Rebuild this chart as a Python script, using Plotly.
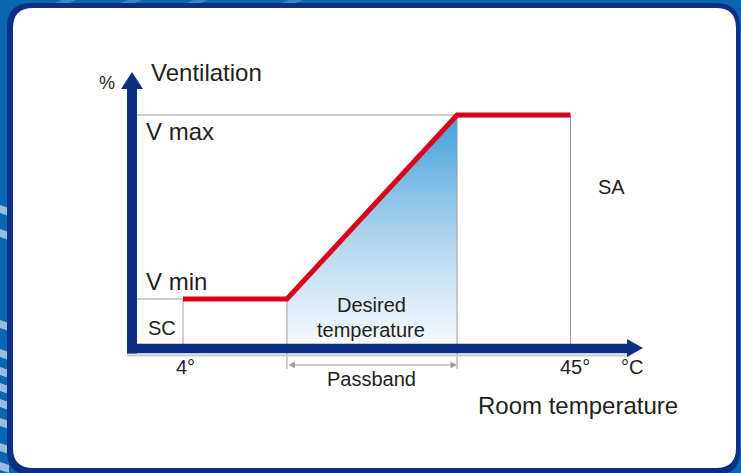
import plotly.graph_objects as go

W, H = 741, 473

# ---------------- data ----------------
temps = [4, 15, 33, 45]          # °C : SC, passband start, passband end, SA
vent = [20, 20, 100, 100]        # % : V min .. V max
t_sc, t_pb_lo, t_pb_hi, t_sa = 4, 15, 33, 45
v_min, v_max = 20, 100

# ---------------- scale (pixels per unit) ----------------
PX_C = 9.45
PX_P = 2.3
X0_PX = 183 - 4 * PX_C
Y0_PX = 345

def tx(px):
    return (px - X0_PX) / PX_C

def vy(py):
    return (Y0_PX - py) / PX_P

NAVY = "#0c2f82"
RED = "#d9001c"
GRAY = "#9b9b9b"
TXT = "#231f20"
FONT = "Arial, Liberation Sans, sans-serif"

AXIS_T = tx(132)
AXIS_V = vy(348.5)

fig = go.Figure()

# gradient fill under the ramp
fig.add_trace(go.Scatter(
    x=[t_pb_lo, t_pb_hi, t_pb_hi, t_pb_lo],
    y=[v_min, v_max, 0, 0],
    mode="none", fill="toself",
    fillgradient=dict(type="vertical", start=0, stop=v_max,
                      colorscale=[[0, "#f7fafd"], [0.45, "#b3d6ef"], [1, "#3fa2da"]]),
    hoverinfo="skip", showlegend=False))

# gray guide lines
gx = [AXIS_T, t_pb_hi, None, t_pb_hi, t_sa, None,
      t_sa, t_sa, None, t_pb_hi, t_pb_hi, None,
      t_pb_lo, t_pb_lo, None, AXIS_T, t_sc, None, t_sc, t_sc]
gy = [v_max, v_max, None, v_max - 0.8, v_max - 0.8, None,
      v_max, vy(346), None, v_max, vy(369), None,
      v_min, vy(369), None, v_min, v_min, None, v_min, vy(350)]
fig.add_trace(go.Scatter(x=gx, y=gy, mode="lines",
                         line=dict(color=GRAY, width=1),
                         hoverinfo="skip", showlegend=False))

# red characteristic curve
fig.add_trace(go.Scatter(x=temps, y=vent, mode="lines",
                         line=dict(color=RED, width=5),
                         hoverinfo="skip", showlegend=False))

# ---------------- panel / background shapes ----------------
def pp(x, y):
    return f"{x / W:.5f},{1 - y / H:.5f}"

def rrect(x0, y0, x1, y1, r):
    return (f"M {pp(x0 + r, y0)} L {pp(x1 - r, y0)} Q {pp(x1, y0)} {pp(x1, y0 + r)} "
            f"L {pp(x1, y1 - r)} Q {pp(x1, y1)} {pp(x1 - r, y1)} "
            f"L {pp(x0 + r, y1)} Q {pp(x0, y1)} {pp(x0, y1 - r)} "
            f"L {pp(x0, y0 + r)} Q {pp(x0, y0)} {pp(x0 + r, y0)} Z")

shapes = []
# light stripes in the blue background
for ys in [205, 229, 320, 349, 367, 383, 399, 418, 443, 462]:
    shapes.append(dict(type="path", xref="paper", yref="paper", layer="below",
                       path=f"M {pp(0, ys)} L {pp(9, ys + 3)} L {pp(9, ys + 11)} L {pp(0, ys + 8)} Z",
                       fillcolor="rgba(175,205,232,0.85)", line=dict(width=0)))
for xs in [52, 118, 184, 279]:
    shapes.append(dict(type="path", xref="paper", yref="paper", layer="below",
                       path=f"M {pp(xs, 4)} L {pp(xs + 10, 0)} L {pp(xs + 24, 0)} L {pp(xs + 14, 4)} Z",
                       fillcolor="rgba(175,205,232,0.3)", line=dict(width=0)))
shapes.append(dict(type="path", xref="paper", yref="paper", layer="below",
                   path=rrect(7, 3, 740, 475, 24), fillcolor=NAVY, line=dict(width=0)))
shapes.append(dict(type="path", xref="paper", yref="paper", layer="below",
                   path=rrect(13, 8, 736, 468, 20), fillcolor="white", line=dict(width=0)))

# axes (thick arrows), drawn above traces
shapes.append(dict(type="line", x0=tx(127) + 0.0, y0=vy(355.5), x1=tx(629), y1=vy(355.5),
                   line=dict(color="#c3cbdb", width=2), layer="above"))
shapes.append(dict(type="line", x0=AXIS_T, y0=vy(353.5), x1=AXIS_T, y1=vy(88),
                   line=dict(color=NAVY, width=10), layer="above"))
shapes.append(dict(type="line", x0=tx(127), y0=AXIS_V, x1=tx(628), y1=AXIS_V,
                   line=dict(color=NAVY, width=9.5), layer="above"))
shapes.append(dict(type="path", layer="above", fillcolor=NAVY, line=dict(width=0),
                   path=f"M {tx(121)},{vy(89)} L {tx(143)},{vy(89)} L {tx(132)},{vy(72)} Z"))
shapes.append(dict(type="path", layer="above", fillcolor=NAVY, line=dict(width=0),
                   path=f"M {tx(627)},{vy(339)} L {tx(627)},{vy(357)} L {tx(643)},{vy(348)} Z"))

# ---------------- texts ----------------
def lab(text, px, py, size, anchor="left"):
    return dict(x=tx(px), y=vy(py), text=text, showarrow=False,
                xanchor=anchor, yanchor="middle",
                font=dict(family=FONT, size=size, color=TXT))

annotations = [
    lab("%", 97, 83, 18),
    lab("Ventilation", 149, 72, 24),
    lab("V max", 144, 131.5, 24),
    lab("V min", 144, 281, 24),
    lab("SC", 146, 327.5, 20),
    lab("Desired", 371, 305, 20, "center"),
    lab("temperature", 371, 330, 20, "center"),
    lab("SA", 596, 187, 20),
    lab("4°", 185, 367, 20, "center"),
    lab("45°", 574.5, 367, 20, "center"),
    lab("°C", 619, 367, 20),
    lab("Passband", 371.5, 379, 20, "center"),
    lab("Room temperature", 476, 405, 24),
]
# passband double arrow
annotations.append(dict(x=t_pb_hi, y=vy(365), ax=t_pb_lo, ay=vy(365),
                        xref="x", yref="y", axref="x", ayref="y",
                        text="", showarrow=True, arrowhead=2, startarrowhead=2,
                        arrowside="end+start", arrowsize=1.3, startarrowsize=1.3,
                        arrowwidth=1, arrowcolor=GRAY))

fig.update_layout(
    width=W, height=H,
    margin=dict(l=0, r=0, t=0, b=0),
    paper_bgcolor="#0a66b1",
    plot_bgcolor="rgba(0,0,0,0)",
    xaxis=dict(range=[tx(0), tx(W)], visible=False, fixedrange=True),
    yaxis=dict(range=[vy(H), vy(0)], visible=False, fixedrange=True),
    shapes=shapes,
    annotations=annotations,
    showlegend=False,
)

fig.write_html("out.html",
               config={"displayModeBar": False},
               post_script="document.body.style.margin='0';document.body.style.padding='0';"
                           "document.body.style.overflow='hidden';")
